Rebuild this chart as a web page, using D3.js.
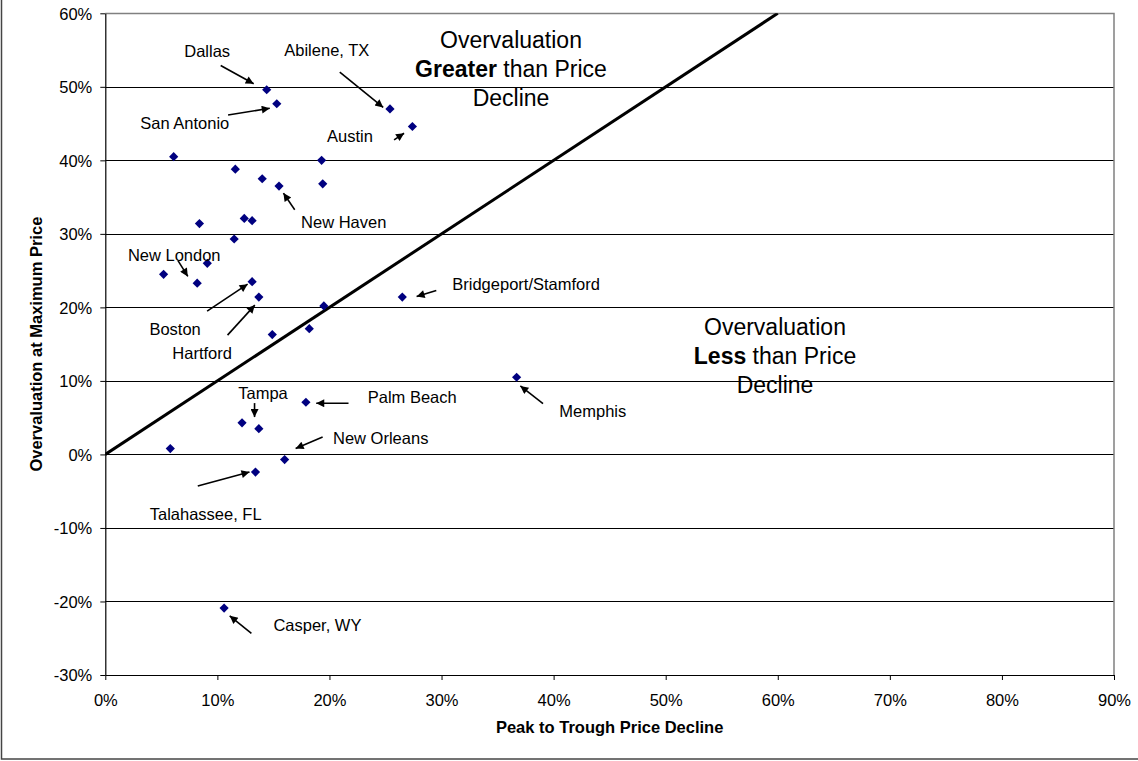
<!DOCTYPE html>
<html>
<head>
<meta charset="utf-8">
<script src="https://cdn.jsdelivr.net/npm/d3@7"></script>
<style>
  html, body { margin: 0; padding: 0; background: #fff; }
  svg { display: block; font-family: "Liberation Sans", Arial, sans-serif; }
</style>
</head>
<body>
<svg id="chart" width="1138" height="761"></svg>
<script>
// Metro areas: peak-to-trough price decline vs. overvaluation at the price peak
const cities = [
  "Dallas", "San Antonio", "Abilene, TX", "Austin", "", "", "", "New Haven",
  "", "", "", "", "", "", "", "", "New London", "Boston", "Hartford", "", "", "",
  "Bridgeport/Stamford", "Palm Beach", "", "Tampa", "", "New Orleans",
  "Talahassee, FL", "Casper, WY", "Memphis"
];
const priceDecline = [
  0.144, 0.153, 0.254, 0.274, 0.061, 0.116, 0.140, 0.155,
  0.193, 0.194, 0.084, 0.124, 0.131, 0.115, 0.052, 0.091, 0.082, 0.131, 0.137, 0.149, 0.182, 0.195,
  0.265, 0.179, 0.122, 0.137, 0.058, 0.160,
  0.134, 0.106, 0.367
];
const overvaluation = [
  0.496, 0.477, 0.470, 0.446, 0.405, 0.388, 0.375, 0.365,
  0.400, 0.368, 0.314, 0.321, 0.318, 0.293, 0.245, 0.260, 0.233, 0.235, 0.214, 0.163, 0.171, 0.202,
  0.214, 0.071, 0.043, 0.035, 0.008, -0.007,
  -0.024, -0.209, 0.105
];
const xTicks = [0, 0.1, 0.2, 0.3, 0.4, 0.5, 0.6, 0.7, 0.8, 0.9];
const yTicks = [-0.3, -0.2, -0.1, 0, 0.1, 0.2, 0.3, 0.4, 0.5, 0.6];
// Break-even line: overvaluation equal to price decline
const parityLine = [[0, 0], [0.6, 0.6]];

// Callout placement, in pixels relative to each labelled point
const callouts = {
  "Dallas":              { text: [-59.5, -32.3], tail: [-46, -24.3], head: [-13, -6] },
  "San Antonio":         { text: [-92, 25.6],    tail: [-48.7, 11.3], head: [-7, 4.6] },
  "Abilene, TX":         { text: [-63.2, -52.5], tail: [-50.2, -36.8], head: [-6.8, -1.5] },
  "Austin":              { text: [-62.5, 15],    tail: [-18.3, 13.3], head: [-8.3, 6.7] },
  "New Haven":           { text: [64.7, 42.3],   tail: [15.7, 23.6],  head: [4.4, 7] },
  "New London":          { text: [-23, -21.7],   tail: [-19.4, -22.7], head: [-9.4, -6.7] },
  "Boston":              { text: [-77, 53.7],    tail: [-45, 29.4],   head: [-4.5, 2.5] },
  "Hartford":            { text: [-56.7, 62],    tail: [-31.3, 38],   head: [-4, 8] },
  "Bridgeport/Stamford": { text: [123.8, -6.7],  tail: [34, -6.7],    head: [14.3, -0.7] },
  "Palm Beach":          { text: [106.3, 0.7],   tail: [42.6, 1],     head: [10.3, 1] },
  "Tampa":               { text: [4.2, -30],     tail: [-4.3, -25.6], head: [-4.3, -11.6] },
  "New Orleans":         { text: [96.1, -15.3],  tail: [38, -22.6],   head: [11, -11] },
  "Talahassee, FL":      { text: [-49.8, 48.3],  tail: [-57.7, 14],   head: [-6, 0] },
  "Casper, WY":          { text: [93.3, 22.7],   tail: [27.3, 25.3],  head: [5.6, 7.7] },
  "Memphis":             { text: [76.2, 39.7],   tail: [26.4, 26.3],  head: [3.7, 8.7] }
};

const svg = d3.select("#chart");
const plotLeft = 105.3, plotRight = 1114, plotTop = 13.3, plotBottom = 675;
const fontSize = 16.5;

const x = d3.scaleLinear().domain([0, 0.9]).range([plotLeft, plotRight]);
const y = d3.scaleLinear().domain([-0.3, 0.6]).range([plotBottom, plotTop]);
// Percent labels with a plain hyphen for negatives
const pct = d3.formatLocale({ decimal: ".", thousands: ",", grouping: [3], currency: ["$", ""], minus: "-" }).format(".0%");

// Outer frame
svg.append("rect")
  .attr("x", 1.5).attr("y", -10)
  .attr("width", 1160).attr("height", 769)
  .attr("fill", "none").attr("stroke", "#444").attr("stroke-width", 1.5);

// Horizontal gridlines
svg.append("g").selectAll("line")
  .data(yTicks.filter(d => d > -0.3 && d < 0.6))
  .join("line")
  .attr("x1", plotLeft).attr("x2", plotRight)
  .attr("y1", d => Math.round(y(d)) + 0.5).attr("y2", d => Math.round(y(d)) + 0.5)
  .attr("stroke", "#000").attr("stroke-width", 1);

// Plot-area border (top and right)
svg.append("path")
  .attr("d", `M${plotLeft},${Math.round(plotTop) + 0.5}H${plotRight}V${plotBottom}`)
  .attr("fill", "none").attr("stroke", "#808080").attr("stroke-width", 1.5);

// X axis
const xAxis = svg.append("g")
  .attr("transform", `translate(0,${plotBottom})`)
  .call(d3.axisBottom(x).tickValues(xTicks).tickFormat(pct).tickSize(5).tickSizeOuter(0));
xAxis.select(".domain").attr("stroke", "#000").attr("stroke-width", 1.2);
xAxis.selectAll(".tick line").attr("stroke", "#000");
xAxis.selectAll(".tick text")
  .attr("y", 30.5).attr("dy", null)
  .attr("font-size", fontSize).attr("font-family", "Liberation Sans, Arial, sans-serif").attr("fill", "#000");

// Y axis
const yAxis = svg.append("g")
  .attr("transform", `translate(${plotLeft},0)`)
  .call(d3.axisLeft(y).tickValues(yTicks).tickFormat(pct).tickSize(5).tickSizeOuter(0));
yAxis.select(".domain").attr("stroke", "#000").attr("stroke-width", 1.2);
yAxis.selectAll(".tick line").attr("stroke", "#000");
yAxis.selectAll(".tick text")
  .attr("x", -13).attr("dy", "0.36em")
  .attr("font-size", fontSize).attr("font-family", "Liberation Sans, Arial, sans-serif").attr("fill", "#000");

// Axis titles
svg.append("text")
  .attr("x", (plotLeft + plotRight) / 2).attr("y", 733)
  .attr("text-anchor", "middle").attr("font-weight", "bold").attr("font-size", fontSize)
  .text("Peak to Trough Price Decline");
svg.append("text")
  .attr("transform", `translate(42,${(plotTop + plotBottom) / 2}) rotate(-90)`)
  .attr("text-anchor", "middle").attr("font-weight", "bold").attr("font-size", fontSize)
  .text("Overvaluation at Maximum Price");

// Parity line, clipped to the plot area
svg.append("clipPath").attr("id", "plot-clip")
  .append("rect").attr("x", plotLeft).attr("y", plotTop)
  .attr("width", plotRight - plotLeft).attr("height", plotBottom - plotTop);
svg.append("path")
  .datum(parityLine)
  .attr("clip-path", "url(#plot-clip)")
  .attr("d", d3.line().x(d => x(d[0])).y(d => y(d[1])))
  .attr("fill", "none").attr("stroke", "#000").attr("stroke-width", 3);

// Region captions
function caption(cx, baseline, boldWord) {
  const g = svg.append("g").attr("font-size", 23).attr("text-anchor", "middle").attr("fill", "#000");
  g.append("text").attr("x", cx).attr("y", baseline).text("Overvaluation");
  const t = g.append("text").attr("x", cx).attr("y", baseline + 29);
  t.append("tspan").attr("font-weight", "bold").text(boldWord);
  t.append("tspan").text(" than Price");
  g.append("text").attr("x", cx).attr("y", baseline + 58).text("Decline");
}
caption(511, 48, "Greater");
caption(775, 335, "Less");

// Arrowhead marker
svg.append("defs").append("marker")
  .attr("id", "arrowhead")
  .attr("viewBox", "0 0 10 10")
  .attr("refX", 10).attr("refY", 5)
  .attr("markerUnits", "userSpaceOnUse")
  .attr("markerWidth", 11).attr("markerHeight", 8)
  .attr("orient", "auto")
  .append("path").attr("d", "M0,0L10,5L0,10Z").attr("fill", "#000");

const points = cities.map((c, i) => ({ city: c, dx: priceDecline[i], oy: overvaluation[i] }));

// Data points: navy diamonds
const diamond = (px, py, r) => `M${px},${py - r}L${px + r},${py}L${px},${py + r}L${px - r},${py}Z`;
svg.append("g").selectAll("path")
  .data(points)
  .join("path")
  .attr("d", d => diamond(x(d.dx), y(d.oy), 4.6))
  .attr("fill", "#000080");

// Callouts: label plus arrow pointing at the city's point
const labelled = points.filter(d => d.city && callouts[d.city]);
const cg = svg.append("g");
labelled.forEach(d => {
  const c = callouts[d.city];
  const px = x(d.dx), py = y(d.oy);
  cg.append("line")
    .attr("x1", px + c.tail[0]).attr("y1", py + c.tail[1])
    .attr("x2", px + c.head[0]).attr("y2", py + c.head[1])
    .attr("stroke", "#000").attr("stroke-width", 1.6)
    .attr("marker-end", "url(#arrowhead)");
  cg.append("text")
    .attr("x", px + c.text[0]).attr("y", py + c.text[1])
    .attr("text-anchor", "middle").attr("font-size", fontSize).attr("fill", "#000")
    .text(d.city);
});
</script>
</body>
</html>
